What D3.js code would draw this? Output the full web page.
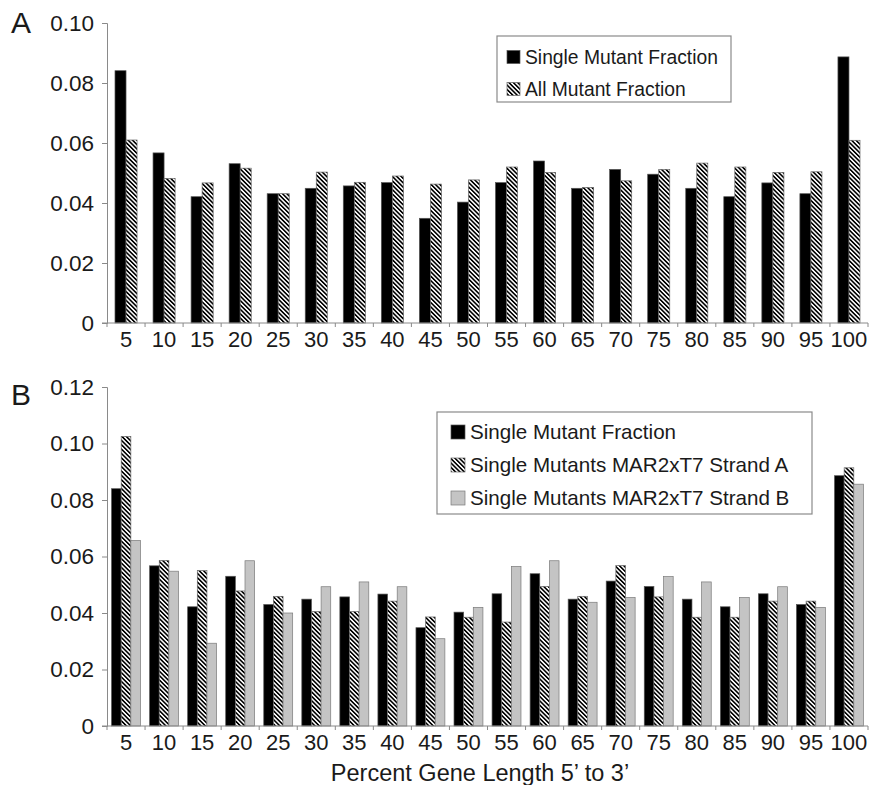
<!DOCTYPE html>
<html>
<head>
<meta charset="utf-8">
<script src="https://cdn.jsdelivr.net/npm/d3@7"></script>
<style>
  html, body { margin: 0; padding: 0; background: #fff; }
  svg { display: block; }
  text { font-family: "Liberation Sans", Arial, sans-serif; fill: #1a1a1a; }
</style>
</head>
<body>
<svg id="chart" width="872" height="785"></svg>
<script>
// ---------- data ----------
const categories = ["5","10","15","20","25","30","35","40","45","50","55","60","65","70","75","80","85","90","95","100"];

// Panel A
const singleMutantA = [0.0841,0.0567,0.0421,0.0531,0.0431,0.0449,0.0457,0.0468,0.0349,0.0403,0.0468,0.0540,0.0449,0.0512,0.0496,0.0449,0.0421,0.0467,0.0431,0.0887];
const allMutantA    = [0.0610,0.0482,0.0467,0.0516,0.0431,0.0503,0.0469,0.0490,0.0463,0.0477,0.0520,0.0502,0.0452,0.0474,0.0512,0.0533,0.0520,0.0502,0.0504,0.0609];

// Panel B
const singleMutantB = [0.0840,0.0567,0.0422,0.0530,0.0430,0.0449,0.0457,0.0467,0.0348,0.0403,0.0468,0.0539,0.0449,0.0513,0.0494,0.0449,0.0422,0.0468,0.0430,0.0886];
const strandA       = [0.1025,0.0586,0.0550,0.0478,0.0459,0.0405,0.0405,0.0442,0.0386,0.0385,0.0368,0.0494,0.0459,0.0568,0.0457,0.0385,0.0385,0.0442,0.0442,0.0914];
const strandB       = [0.0657,0.0548,0.0293,0.0585,0.0400,0.0493,0.0510,0.0493,0.0309,0.0420,0.0565,0.0585,0.0438,0.0455,0.0529,0.0510,0.0455,0.0493,0.0420,0.0856];

const ticksA = [0, 0.02, 0.04, 0.06, 0.08, 0.10];
const ticksB = [0, 0.02, 0.04, 0.06, 0.08, 0.10, 0.12];

const legendA = ["Single Mutant Fraction", "All Mutant Fraction"];
const legendB = ["Single Mutant Fraction", "Single Mutants MAR2xT7 Strand A", "Single Mutants MAR2xT7 Strand B"];
const xTitle = "Percent Gene Length 5\u2019 to 3\u2019";

// ---------- drawing ----------
const svg = d3.select("#chart");
const defs = svg.append("defs");
const pat = defs.append("pattern")
  .attr("id", "hatch").attr("patternUnits", "userSpaceOnUse")
  .attr("width", 3.1).attr("height", 3.1)
  .attr("patternTransform", "rotate(-45)");
pat.append("rect").attr("width", 3.1).attr("height", 3.1).attr("fill", "#fff");
pat.append("rect").attr("width", 1.6).attr("height", 3.1).attr("fill", "#000");

const styles = {
  black: { fill: "#000", stroke: "#555" },
  hatch: { fill: "url(#hatch)", stroke: "#666" },
  gray:  { fill: "#c4c4c4", stroke: "#7a7a7a" }
};

const fmt = v => v === 0 ? "0" : d3.format(".2f")(v);

function panel(cfg) {
  const g = svg.append("g");
  const x = d3.scaleBand().domain(categories).range([cfg.x0, cfg.x1])
    .paddingInner(cfg.padIn).paddingOuter(cfg.padIn / 2);
  const xs = d3.scaleBand().domain(d3.range(cfg.series.length)).range([0, x.bandwidth()]);
  const y = d3.scaleLinear().domain([0, cfg.ymax]).range([cfg.y0, cfg.y1]);

  // bars
  cfg.series.forEach((s, si) => {
    g.append("g").selectAll("rect").data(s.values).join("rect")
      .attr("x", (d, i) => x(categories[i]) + xs(si))
      .attr("width", xs.bandwidth())
      .attr("y", d => y(d))
      .attr("height", d => y(0) - y(d))
      .attr("fill", styles[s.style].fill)
      .attr("stroke", styles[s.style].stroke)
      .attr("stroke-width", 0.7);
  });

  // y axis
  const yAxis = d3.axisLeft(y).tickValues(cfg.ticks).tickFormat(fmt).tickSize(5).tickPadding(8);
  const ya = g.append("g").attr("transform", `translate(${cfg.x0},0)`).call(yAxis);
  ya.select(".domain").attr("stroke", "#8a8a8a");
  ya.selectAll(".tick line").attr("stroke", "#8a8a8a");
  ya.selectAll(".tick text").style("font-size", "22.5px").attr("fill", "#1a1a1a");

  // x axis
  const step = x.step();
  const xa = g.append("g");
  xa.append("line").attr("x1", cfg.x0 - 5).attr("x2", cfg.x1).attr("y1", y(0)).attr("y2", y(0))
    .attr("stroke", "#8a8a8a");
  xa.selectAll("line.tk").data(d3.range(categories.length + 1)).join("line").attr("class", "tk")
    .attr("x1", i => cfg.x0 + i * step).attr("x2", i => cfg.x0 + i * step)
    .attr("y1", y(0)).attr("y2", y(0) + 4).attr("stroke", "#8a8a8a");
  xa.selectAll("text").data(categories).join("text")
    .attr("x", d => x(d) + x.bandwidth() / 2)
    .attr("y", y(0) + 16).attr("dy", "0.35em")
    .attr("text-anchor", "middle").style("font-size", "22px").text(d => d);

  // panel letter
  g.append("text").attr("x", 11).attr("y", cfg.letterY).style("font-size", "30px").text(cfg.letter);

  // legend
  const L = cfg.legend;
  g.append("rect").attr("x", L.x).attr("y", L.y).attr("width", L.w).attr("height", L.h)
    .attr("fill", "#fff").attr("stroke", "#8a8a8a").attr("stroke-width", 1.2);
  cfg.series.forEach((s, si) => {
    const cy = L.cy0 + si * L.dy;
    g.append("rect").attr("x", L.ix).attr("y", cy - L.is / 2).attr("width", L.is).attr("height", L.is)
      .attr("fill", styles[s.style].fill).attr("stroke", styles[s.style].stroke).attr("stroke-width", 0.7);
    g.append("text").attr("x", L.tx).attr("y", cy).attr("dy", "0.35em")
      .style("font-size", L.fs + "px").text(s.name);
  });
}

panel({
  letter: "A", letterY: 33,
  x0: 107, x1: 868, y0: 323, y1: 23, ymax: 0.10, ticks: ticksA, padIn: 0.42,
  series: [
    { name: legendA[0], values: singleMutantA, style: "black" },
    { name: legendA[1], values: allMutantA, style: "hatch" }
  ],
  legend: { x: 497, y: 36, w: 234, h: 66, cy0: 57, dy: 32, ix: 507, is: 13, tx: 525, fs: 19.3 }
});

panel({
  letter: "B", letterY: 405,
  x0: 107, x1: 868, y0: 726, y1: 387, ymax: 0.12, ticks: ticksB, padIn: 0.24,
  series: [
    { name: legendB[0], values: singleMutantB, style: "black" },
    { name: legendB[1], values: strandA, style: "hatch" },
    { name: legendB[2], values: strandB, style: "gray" }
  ],
  legend: { x: 437, y: 412, w: 375, h: 102, cy0: 432, dy: 33, ix: 451, is: 14, tx: 470, fs: 20.6 }
});

svg.append("text").attr("x", 480).attr("y", 781).attr("text-anchor", "middle")
  .style("font-size", "23.5px").text(xTitle);
</script>
</body>
</html>
